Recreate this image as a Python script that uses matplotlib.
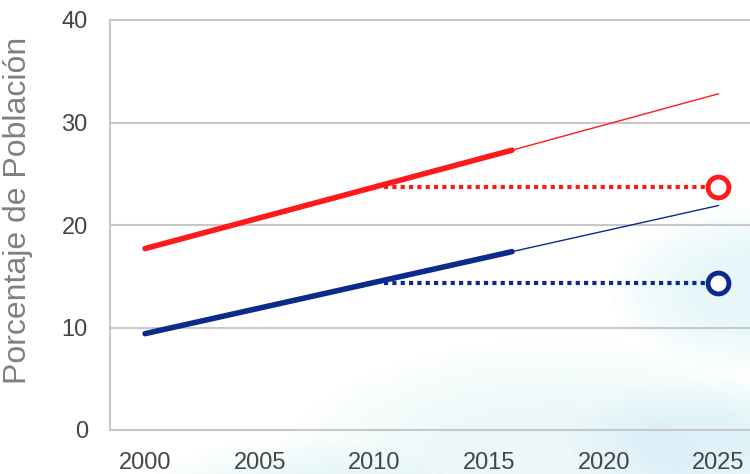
import matplotlib.pyplot as plt
from matplotlib.patches import Ellipse

# observed trend (thick), projection (thin), target level (dotted + circle)
years_obs = [2000, 2016]
years_proj = [2016, 2025]
years_target = [2010.4, 2025]

red_obs = [17.7, 27.3]
red_proj = [27.3, 32.8]
red_target = [23.7, 23.7]

blue_obs = [9.4, 17.4]
blue_proj = [17.4, 21.9]
blue_target = [14.3, 14.3]

x_ticks = [2000, 2005, 2010, 2015, 2020, 2025]
y_ticks = [0, 10, 20, 30, 40]

RED = "#ff1a1a"
BLUE = "#0a2a8c"


def soft_blob(bg, cx, cy, w, h, alpha):
    # stack of shrinking ellipses to fake a blurred edge
    for k in range(8):
        s = 1 - k * 0.08
        bg.add_patch(Ellipse((cx, cy), w * s, h * s, facecolor="#cdeff9",
                             edgecolor="none", alpha=alpha))


def main():
    fig = plt.figure(figsize=(7.5, 4.74), dpi=100)
    fig.patch.set_facecolor("white")

    bg = fig.add_axes([0, 0, 1, 1], zorder=0)
    bg.set_xlim(0, 750)
    bg.set_ylim(474, 0)
    bg.axis("off")
    soft_blob(bg, 760, 290, 300, 160, 0.07)
    soft_blob(bg, 560, 470, 560, 260, 0.05)
    soft_blob(bg, 300, 500, 320, 120, 0.05)
    soft_blob(bg, 700, 440, 260, 120, 0.06)

    ax = fig.add_axes([110 / 750, 44 / 474, 660 / 750, 410 / 474], zorder=1)
    ax.patch.set_alpha(0)
    ax.set_xlim(1998.47, 2027.25)
    ax.set_ylim(0, 40)

    ax.plot(years_obs, red_obs, color=RED, lw=4, solid_capstyle="round", zorder=3)
    ax.plot(years_proj, red_proj, color=RED, lw=1, zorder=3)
    ax.plot(years_target, red_target, color=RED, lw=3, ls=(0, (1, 1)), zorder=3)
    ax.plot([years_target[1]], [red_target[1]], marker="o", ms=15, mfc="white",
            mec=RED, mew=3.5, zorder=4)

    ax.plot(years_obs, blue_obs, color=BLUE, lw=4, solid_capstyle="round", zorder=3)
    ax.plot(years_proj, blue_proj, color=BLUE, lw=1, zorder=3)
    ax.plot(years_target, blue_target, color=BLUE, lw=3, ls=(0, (1, 1)), zorder=3)
    ax.plot([years_target[1]], [blue_target[1]], marker="o", ms=15, mfc="white",
            mec=BLUE, mew=3.5, zorder=4)

    ax.set_yticks(y_ticks)
    ax.set_xticks(x_ticks)
    ax.grid(axis="y", color="#c8c8c8", lw=1.5)
    ax.set_axisbelow(True)
    for side in ["left", "top", "bottom"]:
        ax.spines[side].set_color("#c8c8c8")
        ax.spines[side].set_linewidth(1.5)
    ax.spines["right"].set_visible(False)

    ax.tick_params(length=0, labelsize=17, labelcolor="#454545")
    ax.tick_params(axis="x", pad=16)
    ax.tick_params(axis="y", pad=16)
    for lab in ax.get_xticklabels() + ax.get_yticklabels():
        lab.set_fontfamily("Liberation Sans")

    ax.set_ylabel("Porcentaje de Población", fontsize=23, color="#808080",
                  family="Liberation Sans")
    ax.yaxis.set_label_coords(-0.117, 0.535)

    fig.savefig("out.png", dpi=100)


if __name__ == "__main__":
    main()
